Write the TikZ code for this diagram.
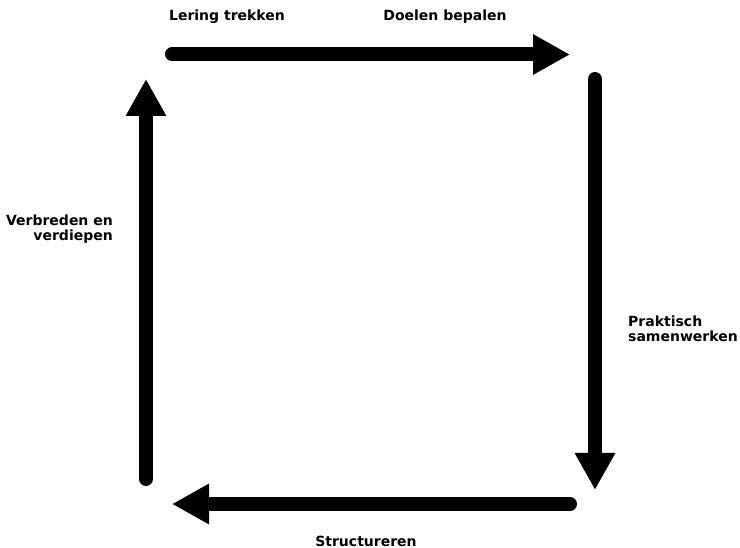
\documentclass[tikz,border=0pt]{standalone}
\usepackage{fontspec}
\setmainfont{DejaVu Sans}
\usetikzlibrary{arrows.meta}
\tikzset{
  cyclearrow/.style={line width=14pt, line cap=round, -{Triangle[length=37pt,width=38pt]}},
  lbl/.style={font=\bfseries\fontsize{14}{15.5}\selectfont, inner sep=0pt}
}
\begin{document}
\begin{tikzpicture}[x=1pt,y=-1pt]
\useasboundingbox (0,0) rectangle (740,548);
\coordinate (tl) at (172,54.5);
\coordinate (tr) at (570,54.5);
\coordinate (rt) at (595,79);
\coordinate (rb) at (595,490);
\coordinate (br) at (570,504);
\coordinate (bl) at (172,504);
\coordinate (lb) at (146,479);
\coordinate (lt) at (146,79);

\draw[cyclearrow] (tl) -- (tr);
\draw[cyclearrow] (rt) -- (rb);
\draw[cyclearrow] (br) -- (bl);
\draw[cyclearrow] (lb) -- (lt);

\node[lbl] (lering) at (227,17) {Lering trekken};
\node[lbl] (doelen) at (445,17) {Doelen bepalen};
\node[lbl, align=right, anchor=east] (verbreden) at (113,229) {Verbreden en\\ verdiepen};
\node[lbl, align=left, anchor=west] (praktisch) at (628,329) {Praktisch\\ samenwerken};
\node[lbl] (structureren) at (366,541) {Structureren};
\end{tikzpicture}
\end{document}
